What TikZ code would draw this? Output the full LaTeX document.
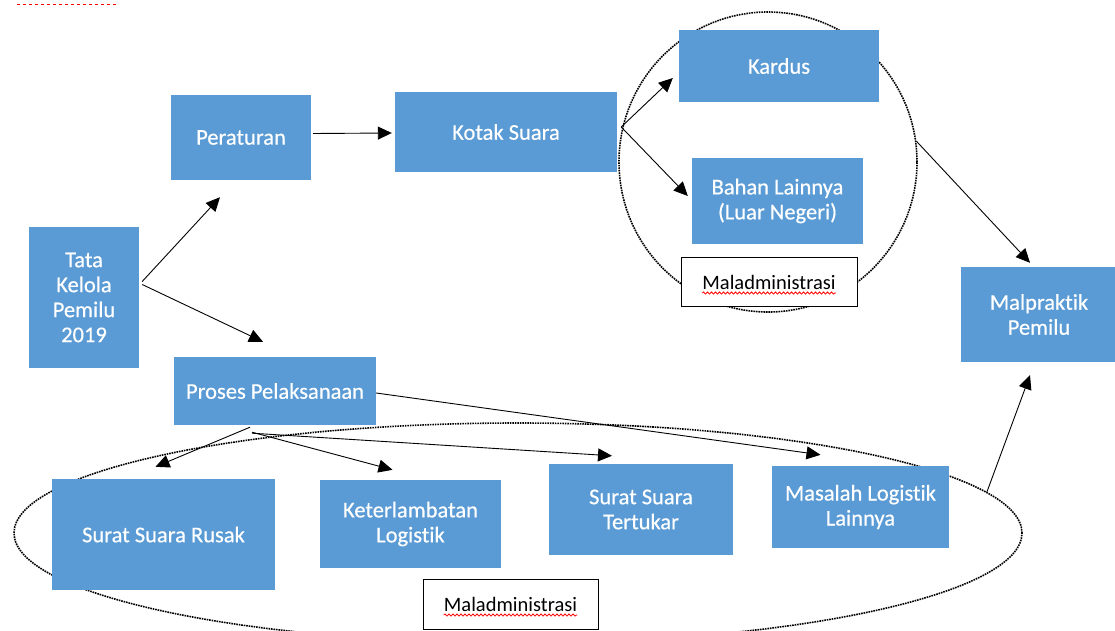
\documentclass[tikz,border=0pt]{standalone}
\usepackage{fontspec}
\setmainfont{Carlito}[Ligatures=NoCommon]
\newfontfamily\boxfont{Carlito}[Ligatures=NoCommon, FakeBold=0.4]
\usetikzlibrary{arrows.meta,calc,shapes.geometric,decorations.pathmorphing}
\definecolor{boxblue}{RGB}{91,155,213}

\begin{document}
\begin{tikzpicture}[x=1pt, y=-1pt,
  box/.style = {shape=rectangle, fill=boxblue, text=white, align=center,
    font=\boxfont\fontsize{22.5}{25}\selectfont, inner sep=0pt},
  malbox/.style = {shape=rectangle, draw, fill=white, line width=1pt,
    minimum width=176pt, minimum height=49pt},
  maltext/.style = {inner sep=0pt, font=\fontsize{20.5}{23}\selectfont},
  group/.style = {shape=ellipse, draw, dash pattern=on 1.6pt off 0.9pt,
    line width=1.6pt, inner sep=0pt},
  arr/.style = {-{Triangle[length=14pt,width=13pt]}, line width=0.9pt},
  wavy/.style = {draw=red, line width=0.8pt, decorate,
    decoration={snake, amplitude=1.1pt, segment length=4pt}}]

  \useasboundingbox (0,0) rectangle (1115,631);
  \draw[red, dashed, line width=1pt] (17,5) -- (117,5);

  % dotted groups
  \node[group, minimum width=298pt, minimum height=300pt] (grp1) at (768,162) {};
  \node[group, minimum width=1008pt, minimum height=220pt] (grp2) at (518,533) {};

  % boxes
  \node[box, minimum width=110pt, minimum height=141pt] (tata) at (84,297.5) {Tata\\Kelola\\Pemilu\\2019};
  \node[box, minimum width=140pt, minimum height=85pt] (perat) at (241,137.5) {Peraturan};
  \node[box, minimum width=222pt, minimum height=80pt] (kotak) at (506,132) {Kotak Suara};
  \node[box, minimum width=200pt, minimum height=72pt] (kardus) at (779,66) {Kardus};
  \node[box, minimum width=171pt, minimum height=86pt] (bahan) at (777.5,201) {Bahan Lainnya\\(Luar Negeri)};
  \node[box, minimum width=156pt, minimum height=95pt] (malp) at (1039,314.5) {Malpraktik\\Pemilu};
  \node[box, minimum width=202pt, minimum height=68pt] (proses) at (275,391) {Proses Pelaksanaan};
  \node[box, minimum width=223pt, minimum height=111pt] (rusak) at (163.5,534.5) {Surat Suara Rusak};
  \node[box, minimum width=181pt, minimum height=88pt] (ketl) at (410.5,524) {Keterlambatan\\Logistik};
  \node[box, minimum width=184pt, minimum height=91pt] (tukar) at (641,509.5) {Surat Suara\\Tertukar};
  \node[box, minimum width=177pt, minimum height=82pt] (masalah) at (860.5,507) {Masalah Logistik\\Lainnya};

  % maladministrasi labels
  \node[malbox] (mal1) at (769,282) {};
  \node[maltext] (mal1t) at (mal1) {Maladministrasi};
  \draw[wavy] ($(mal1t.base west)+(0,4)$) -- ($(mal1t.base east)+(0,4)$);
  \node[malbox, minimum width=175pt, minimum height=50pt] (mal2) at (510.5,604) {};
  \node[maltext] (mal2t) at (mal2) {Maladministrasi};
  \draw[wavy] ($(mal2t.base west)+(0,4)$) -- ($(mal2t.base east)+(0,4)$);

  % connectors
  \draw[arr] ($(tata.east)+(3,-16)$) -- ($(perat.south)+(-21,17)$);
  \draw[arr] ($(tata.east)+(3,-13)$) -- ($(proses.north)+(-12,-15)$);
  \draw[arr] ($(perat.east)+(2,-4)$) -- ($(kotak.west)+(-3,1)$);
  \draw[arr] ($(kotak.east)+(4,-5)$) -- ($(kardus.west)+(-6,12)$);
  \draw[arr] ($(kotak.east)+(4,-5)$) -- ($(bahan.west)+(-4,-5)$);
  \draw[arr] (grp1.8) -- ($(malp.north)+(-9,-4)$);
  \draw[arr] (grp2.5) -- ($(malp.south)+(-9,13)$);
  \draw[arr] ($(proses.east)+(0,2)$) -- ($(masalah.north)+(-40,-11)$);
  \draw[arr] ($(proses.south)+(-25,2)$) -- ($(rusak.north)+(-8,-12)$);
  \draw[arr] ($(proses.south)+(-23,7)$) -- ($(ketl.north)+(-18,-10)$);
  \draw[arr] ($(proses.south)+(-23,8)$) -- ($(tukar.north)+(-29,-8)$);

\end{tikzpicture}
\end{document}
